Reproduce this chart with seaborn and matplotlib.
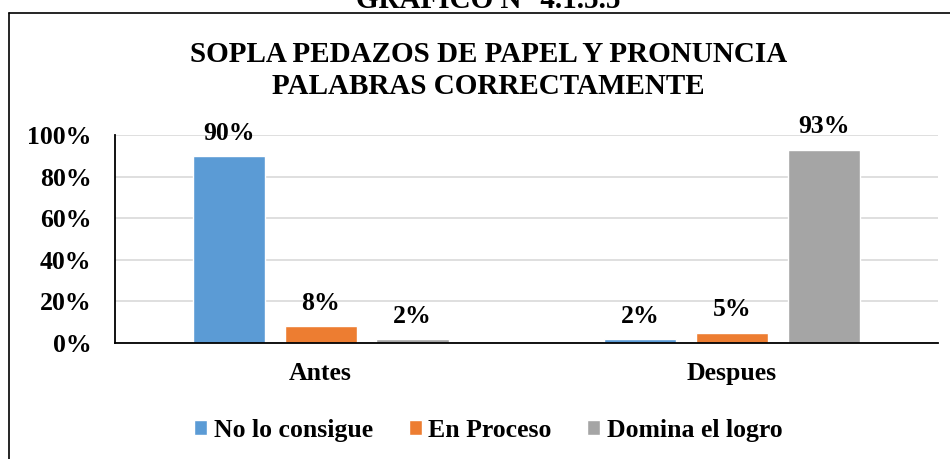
import pandas as pd
import seaborn as sns
import matplotlib.pyplot as plt
from matplotlib.lines import Line2D

# datos del grafico
momentos = ['Antes', 'Despues']
niveles = ['No lo consigue', 'En Proceso', 'Domina el logro']
no_lo_consigue = [0.90, 0.02]
en_proceso = [0.08, 0.05]
domina_logro = [0.02, 0.93]
colores = ['#5B9BD5', '#ED7D31', '#A5A5A5']

df = pd.DataFrame({'Momento': momentos, 'No lo consigue': no_lo_consigue,
                   'En Proceso': en_proceso, 'Domina el logro': domina_logro})
df_long = df.melt(id_vars='Momento', var_name='Nivel', value_name='Porcentaje')

sns.set_style('white')
plt.rcParams['font.family'] = ['Liberation Serif', 'DejaVu Serif']
plt.rcParams['font.weight'] = 'bold'
plt.rcParams['text.color'] = 'black'
plt.rcParams['xtick.color'] = 'black'
plt.rcParams['ytick.color'] = 'black'

fig = plt.figure(figsize=(9.5, 4.59), dpi=100)
ax = fig.add_axes([0.121, 0.2527, 0.866, 0.4533])

sns.barplot(data=df_long, x='Momento', y='Porcentaje', hue='Nivel', hue_order=niveles,
            palette=colores, width=0.67, gap=0.215, saturation=1, ax=ax, legend=True)

for cont in ax.containers:
    ax.bar_label(cont, labels=[f'{v*100:.0f}%' for v in cont.datavalues],
                 padding=8, fontsize=18.5, fontweight='bold', color='black')

ax.set_ylim(0, 1)
ax.set_xlim(-0.5, 1.5)
ax.set_yticks([0, 0.2, 0.4, 0.6, 0.8, 1.0])
ax.set_yticklabels(['0%', '20%', '40%', '60%', '80%', '100%'])
ax.tick_params(axis='both', length=0, labelsize=18.5)
ax.tick_params(axis='x', pad=14)
ax.tick_params(axis='y', pad=17)
ax.yaxis.grid(True, color='#D9D9D9', linewidth=1.2)
ax.set_axisbelow(True)
ax.set_xlabel('')
ax.set_ylabel('')
for s in ['top', 'right']:
    ax.spines[s].set_visible(False)
for s in ['left', 'bottom']:
    ax.spines[s].set_color('black')
    ax.spines[s].set_linewidth(1.3)

ax.legend(loc='center', bbox_to_anchor=(0.514, 0.063), bbox_transform=fig.transFigure,
          ncol=3, frameon=False, fontsize=18.5, handlelength=0.5, handleheight=0.5,
          handletextpad=0.25, columnspacing=1.4, title=None)

fig.text(0.514, 0.846, 'SOPLA PEDAZOS DE PAPEL Y PRONUNCIA\nPALABRAS CORRECTAMENTE',
         ha='center', va='center', fontsize=21, fontweight='bold', linespacing=1.25)
fig.text(0.514, 1 - 8 / 459, 'GRÁFICO N° 4.1.5.5', ha='center', va='baseline',
         fontsize=21, fontweight='bold')

# marco del grafico
yb = 1 - 13 / 459
fig.add_artist(Line2D([8.5 / 950, 8.5 / 950], [0, yb], color='black', lw=1.2))
fig.add_artist(Line2D([8.5 / 950, 1], [yb, yb], color='black', lw=1.2))

fig.savefig('out.png', dpi=100)
